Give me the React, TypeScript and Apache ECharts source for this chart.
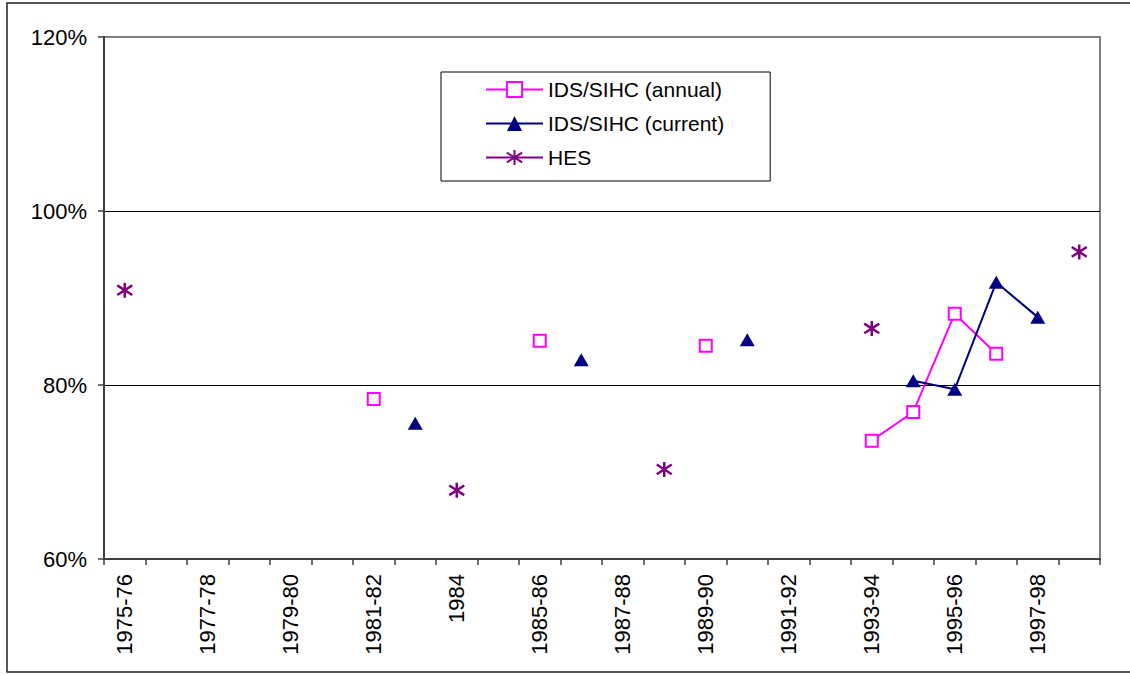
import React, { useEffect, useRef } from "react";
import * as echarts from "echarts";

const categories = [
  "1975-76", "1976-77", "1977-78", "1978-79", "1979-80", "1980-81",
  "1981-82", "1982-83", "1984", "1984-85", "1985-86", "1986-87",
  "1987-88", "1988-89", "1989-90", "1990-91", "1991-92", "1992-93",
  "1993-94", "1994-95", "1995-96", "1996-97", "1997-98", "1998-99",
];

const annualValues = [
  null, null, null, null, null, null,
  78.4, null, null, null, 85.1, null,
  null, null, 84.5, null, null, null,
  73.6, 76.9, 88.2, 83.6, null, null,
];

const currentValues = [
  null, null, null, null, null, null,
  null, 75.6, null, null, null, 82.9,
  null, null, null, 85.2, null, null,
  null, 80.5, 79.5, 91.8, 87.8, null,
];

const hesValues = [
  90.9, null, null, null, null, null,
  null, null, 67.9, null, null, null,
  null, 70.3, null, null, null, null,
  86.5, null, null, null, null, 95.3,
];

const yTicks = { min: 60, max: 120, interval: 20 };

const FONT = "'Liberation Sans', Arial, sans-serif";
const STAR = "path://M7,0L7,14M1,2.5L13,11.5M1,11.5L13,2.5";

export default function App() {
  const ref = useRef<HTMLDivElement>(null);
  useEffect(() => {
    if (!ref.current) return;
    const chart = echarts.init(ref.current, null, { renderer: "svg" });
    chart.setOption({
      animation: false,
      backgroundColor: "#fff",
      textStyle: { fontFamily: FONT },
      graphic: [
        {
          type: "rect",
          shape: { x: 7, y: 3, width: 1140, height: 669 },
          style: { fill: "none", stroke: "#222", lineWidth: 1.5 },
          silent: true,
        },
      ],
      legend: {
        orient: "vertical",
        left: 441,
        top: 72,
        padding: [7, 46, 13, 44],
        itemGap: 13,
        itemWidth: 57,
        itemHeight: 19,
        backgroundColor: "#fff",
        borderColor: "#000",
        borderWidth: 1,
        borderRadius: 0,
        textStyle: { fontSize: 21, fontFamily: FONT, color: "#000", lineHeight: 21 },
        data: ["IDS/SIHC (annual)", "IDS/SIHC (current)", "HES"],
      },
      grid: {
        left: 104,
        top: 37,
        width: 996,
        height: 522,
        show: true,
        borderColor: "#808080",
        borderWidth: 2,
        backgroundColor: "transparent",
      },
      xAxis: {
        type: "category",
        data: categories,
        boundaryGap: true,
        axisLine: { lineStyle: { color: "#404040", width: 2 } },
        axisTick: { show: true, interval: 0, length: 6, lineStyle: { color: "#404040", width: 1.5 } },
        axisLabel: {
          interval: 1,
          rotate: 90,
          margin: 15,
          fontSize: 22,
          fontFamily: FONT,
          color: "#000",
        },
        splitLine: { show: false },
      },
      yAxis: {
        type: "value",
        min: yTicks.min,
        max: yTicks.max,
        interval: yTicks.interval,
        axisLine: { show: true, lineStyle: { color: "#404040", width: 2 } },
        axisTick: { show: true, length: 6, lineStyle: { color: "#404040", width: 1.5 } },
        axisLabel: {
          formatter: "{value}%",
          margin: 17,
          fontSize: 22,
          fontFamily: FONT,
          color: "#000",
        },
        splitLine: {
          show: true,
          lineStyle: { color: ["#000", "#000", "#000", "transparent"], width: 1 },
        },
      },
      series: [
        {
          name: "IDS/SIHC (annual)",
          type: "line",
          data: annualValues,
          connectNulls: false,
          symbol: "rect",
          symbolSize: 12,
          showAllSymbol: true,
          lineStyle: { color: "#FF00FF", width: 2 },
          itemStyle: { color: "#fff", borderColor: "#FF00FF", borderWidth: 2 },
          z: 3,
        },
        {
          name: "IDS/SIHC (current)",
          type: "line",
          data: currentValues,
          connectNulls: false,
          symbol: "triangle",
          symbolSize: [15, 13],
          showAllSymbol: true,
          lineStyle: { color: "#000080", width: 2 },
          itemStyle: { color: "#000080", borderColor: "#000080", borderWidth: 0 },
          z: 4,
        },
        {
          name: "HES",
          type: "line",
          data: hesValues,
          connectNulls: false,
          symbol: STAR,
          symbolSize: 15,
          showAllSymbol: true,
          lineStyle: { color: "#800080", width: 2 },
          itemStyle: { color: "#800080", borderColor: "#800080", borderWidth: 2.5 },
          z: 5,
        },
      ],
    });
    return () => chart.dispose();
  }, []);
  return (
    <div
      ref={ref}
      style={{ position: "absolute", left: 0, top: 0, width: 1130, height: 675 }}
    />
  );
}
